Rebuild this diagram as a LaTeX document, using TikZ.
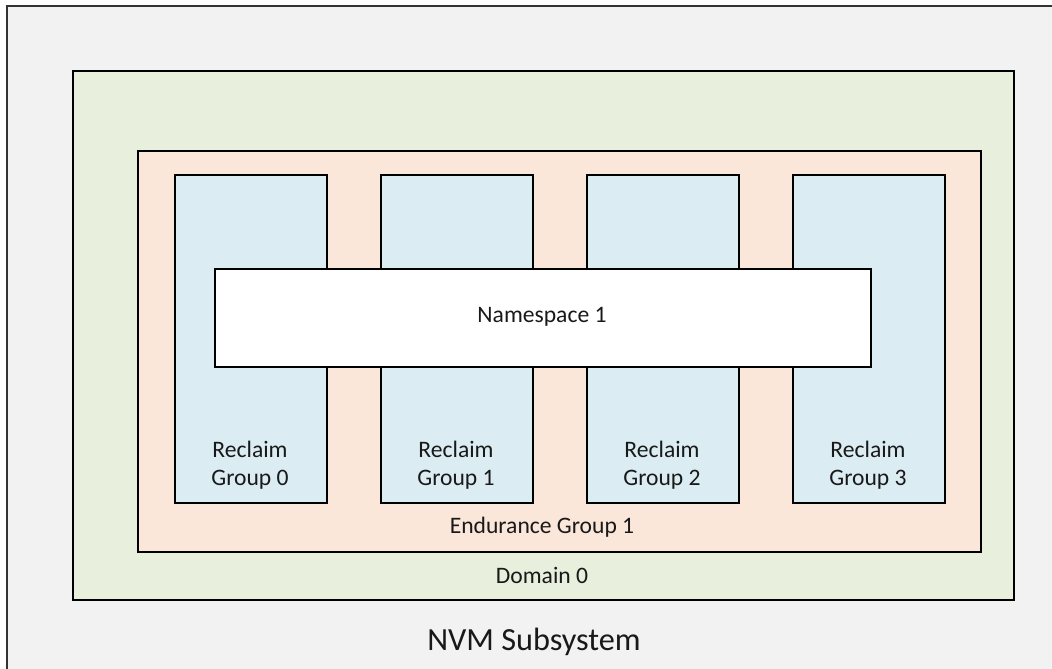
\documentclass[tikz,border=0pt]{standalone}
\usepackage{fontspec}
\setmainfont{Carlito}
\definecolor{subsysfill}{HTML}{F2F2F2}
\definecolor{domainfill}{HTML}{E9EFDD}
\definecolor{endfill}{HTML}{FBE7DA}
\definecolor{rgfill}{HTML}{DBEDF3}
\begin{document}
\begin{tikzpicture}[x=0.75pt,y=-0.75pt,
  box/.style={draw=black,line width=1.2pt,inner sep=0pt,anchor=north west},
  lbl/.style={font=\fontsize{17.7}{21}\selectfont,inner sep=0pt,align=center,text=black!90},
  biglbl/.style={font=\fontsize{24.2}{28}\selectfont,inner sep=0pt,text=black!90}]
\useasboundingbox (0,0) rectangle (1052,668);
% outer NVM subsystem (right and bottom edges are outside the picture)
\node[box,draw=black!80,fill=subsysfill,minimum width=1100*0.75pt,minimum height=700*0.75pt] (sub) at (6,5) {};
\node[box,fill=domainfill,minimum width=941*0.75pt,minimum height=529*0.75pt] (dom) at (72,70) {};
\node[box,fill=endfill,minimum width=843*0.75pt,minimum height=401*0.75pt] (end) at (137,150) {};
\foreach \i/\x in {0/174,1/380,2/586,3/792}{
  \node[box,fill=rgfill,minimum width=152*0.75pt,minimum height=328*0.75pt] (rg\i) at (\x,174) {};
  \node[lbl] (rgl\i) at (\x+76,465) {Reclaim\\Group \i};
}
\node[box,fill=white,minimum width=656*0.75pt,minimum height=98*0.75pt] (ns) at (214,268) {};
\node[lbl] (nsl) at (542,317) {Namespace 1};
\node[lbl] (endl) at (542,527) {Endurance Group 1};
\node[lbl] (doml) at (542,575) {Domain 0};
\node[biglbl] (subl) at (534,642) {NVM Subsystem};
\end{tikzpicture}
\end{document}
